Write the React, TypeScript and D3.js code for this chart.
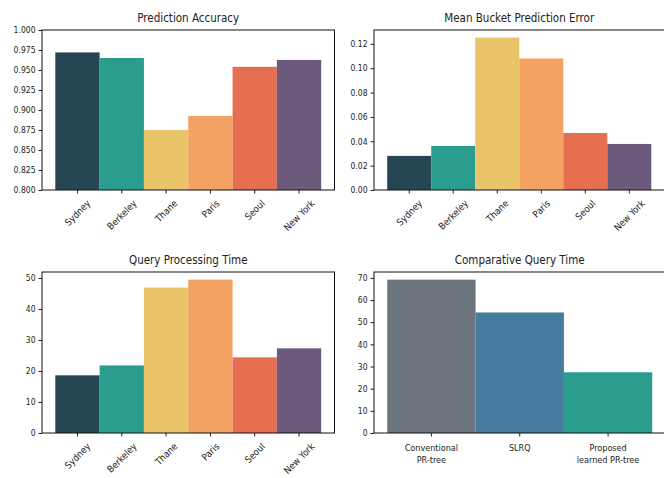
import React, { useRef, useEffect } from 'react';
import * as d3 from 'd3';

// city-level results
const cities = ['Sydney', 'Berkeley', 'Thane', 'Paris', 'Seoul', 'New York'];
const accuracy = [0.972, 0.965, 0.875, 0.8925, 0.954, 0.9625];
const bucketError = [0.028, 0.0362, 0.1251, 0.108, 0.0468, 0.0378];
const queryTime = [18.6, 21.8, 46.9, 49.45, 24.4, 27.3];
const cityColors = ['#264653', '#2a9d8f', '#e9c46a', '#f4a261', '#e76f51', '#6b5a7b'];

// method comparison
const methods = ['Conventional\nPR-tree', 'SLRQ', 'Proposed\nlearned PR-tree'];
const comparative = [69.2, 54.4, 27.4];
const methodColors = ['#6c757d', '#457b9d', '#2a9d8f'];

const FONT = "'DejaVu Sans Condensed', 'DejaVu Sans', sans-serif";

const App = () => {
  const svgRef = useRef(null);

  useEffect(() => {
    const svg = d3.select(svgRef.current);
    svg.selectAll('*').remove();

    const drawPanel = (opts) => {
      const { box, title, labels, values, colors, yDomain, yTicks, yFormat, rotate } = opts;
      const n = values.length;
      const pad = 0.05 * n;
      const x = d3.scaleLinear().domain([-0.5 - pad, n - 0.5 + pad]).range([box.left, box.right]);
      const y = d3.scaleLinear().domain(yDomain).range([box.bottom, box.top]);
      const g = svg.append('g');

      // bars
      g.selectAll('rect.bar')
        .data(values)
        .enter()
        .append('rect')
        .attr('class', 'bar')
        .attr('x', (d, i) => x(i - 0.5))
        .attr('width', (d, i) => x(i + 0.5) - x(i - 0.5))
        .attr('y', (d) => y(Math.max(d, yDomain[0])))
        .attr('height', (d) => y(yDomain[0]) - y(Math.max(d, yDomain[0])))
        .attr('fill', (d, i) => colors[i]);

      // y axis
      const yAxis = d3.axisLeft(y).tickValues(yTicks).tickFormat(d3.format(yFormat)).tickSize(3.5).tickPadding(3);
      const ya = g.append('g').attr('transform', `translate(${box.left},0)`).call(yAxis);
      ya.select('.domain').remove();
      ya.selectAll('line').attr('stroke', '#222');
      ya.selectAll('text').attr('font-family', FONT).attr('font-size', 8.5).attr('fill', '#222');

      // x ticks
      labels.forEach((lab, i) => {
        const tx = x(i);
        g.append('line')
          .attr('x1', tx).attr('x2', tx)
          .attr('y1', box.bottom).attr('y2', box.bottom + 3.5)
          .attr('stroke', '#222');
        if (rotate) {
          const t = g.append('text')
            .attr('font-family', FONT).attr('font-size', 9.5).attr('fill', '#222')
            .attr('text-anchor', 'middle')
            .attr('dominant-baseline', 'central')
            .text(lab);
          const w = t.node().getComputedTextLength();
          const h = 10;
          const off = (w + h) / (2 * Math.SQRT2);
          t.attr('transform', `translate(${tx},${box.bottom + 8 + off}) rotate(-45)`);
        } else {
          const t = g.append('text')
            .attr('font-family', FONT).attr('font-size', 9).attr('fill', '#222')
            .attr('text-anchor', 'middle');
          lab.split('\n').forEach((line, k) => {
            t.append('tspan').attr('x', tx).attr('y', box.bottom + 17.5 + k * 12).text(line);
          });
        }
      });

      // frame
      g.append('rect')
        .attr('x', box.left).attr('y', box.top)
        .attr('width', box.right - box.left).attr('height', box.bottom - box.top)
        .attr('fill', 'none').attr('stroke', '#111').attr('stroke-width', 1);

      // title
      g.append('text')
        .attr('x', (box.left + box.right) / 2)
        .attr('y', box.top - 8.5)
        .attr('text-anchor', 'middle')
        .attr('font-family', FONT).attr('font-size', 11.5).attr('fill', '#222')
        .text(title);
    };

    const top = { top: 30, bottom: 190 };
    const bot = { top: 272, bottom: 433 };

    drawPanel({
      box: { left: 42, right: 334.5, ...top },
      title: 'Prediction Accuracy',
      labels: cities, values: accuracy, colors: cityColors,
      yDomain: [0.8, 1.0], yTicks: d3.range(0, 9).map((k) => 0.8 + k * 0.025), yFormat: '.3f', rotate: true,
    });

    const errMax = d3.max(bucketError) * 1.05;
    drawPanel({
      box: { left: 374, right: 664.5, ...top },
      title: 'Mean Bucket Prediction Error',
      labels: cities, values: bucketError, colors: cityColors,
      yDomain: [0, errMax], yTicks: d3.range(0, 7).map((k) => k * 0.02), yFormat: '.2f', rotate: true,
    });

    const qMax = d3.max(queryTime) * 1.05;
    drawPanel({
      box: { left: 42, right: 334.5, ...bot },
      title: 'Query Processing Time',
      labels: cities, values: queryTime, colors: cityColors,
      yDomain: [0, qMax], yTicks: d3.range(0, 51, 10), yFormat: 'd', rotate: true,
    });

    const cMax = d3.max(comparative) * 1.05;
    drawPanel({
      box: { left: 374, right: 665.5, ...bot },
      title: 'Comparative Query Time',
      labels: methods, values: comparative, colors: methodColors,
      yDomain: [0, cMax], yTicks: d3.range(0, 71, 10), yFormat: 'd', rotate: false,
    });
  }, []);

  return (
    <svg
      ref={svgRef}
      width={664}
      height={478}
      style={{ position: 'absolute', left: 0, top: 0, background: '#fff' }}
    />
  );
};

export default App;
